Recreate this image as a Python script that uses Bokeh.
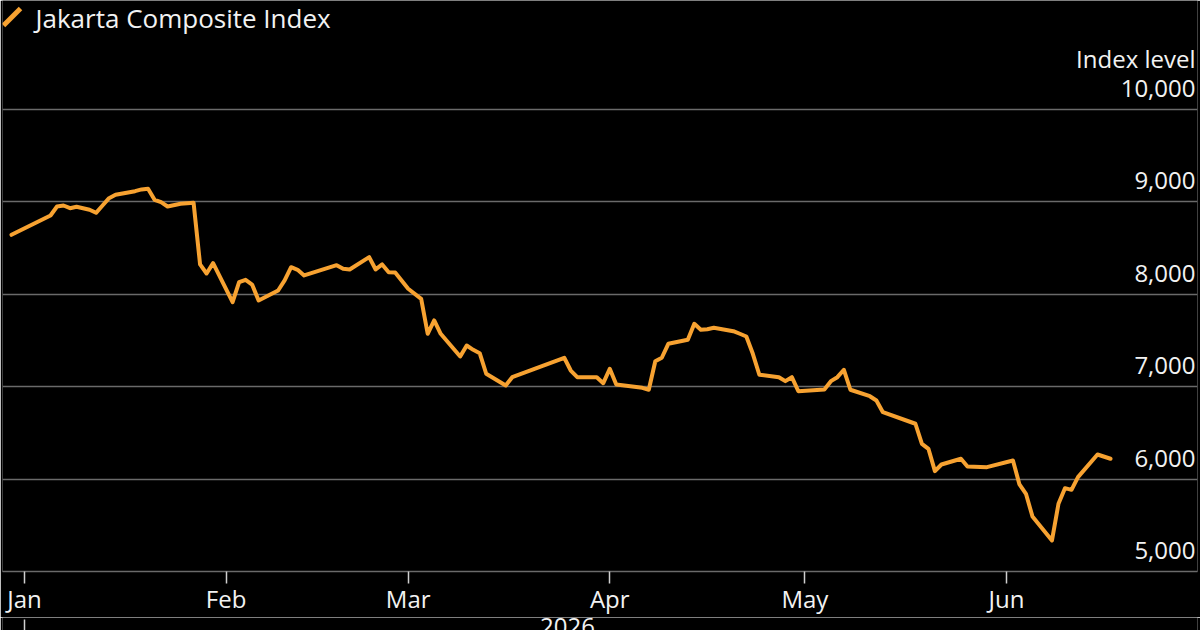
import pandas as pd
from bokeh.plotting import figure
from bokeh.layouts import column
from bokeh.models import Range1d, FixedTicker, Label, Arrow, ColumnDataSource
from bokeh.core.properties import value
from bokeh.embed import file_html
from bokeh.resources import INLINE

# ---------------- data ----------------
series_name = "Jakarta Composite Index"
y_axis_title = "Index level"

dates = [
    "2025-12-30", "2026-01-05", "2026-01-06", "2026-01-07", "2026-01-08", "2026-01-09",
    "2026-01-11", "2026-01-12", "2026-01-13", "2026-01-14", "2026-01-15", "2026-01-18",
    "2026-01-19", "2026-01-20", "2026-01-21", "2026-01-22", "2026-01-23", "2026-01-25",
    "2026-01-27", "2026-01-28", "2026-01-29", "2026-01-30", "2026-02-02", "2026-02-03",
    "2026-02-04", "2026-02-05", "2026-02-06", "2026-02-09", "2026-02-10", "2026-02-11",
    "2026-02-12", "2026-02-13", "2026-02-18", "2026-02-19", "2026-02-20", "2026-02-23",
    "2026-02-24", "2026-02-25", "2026-02-26", "2026-02-27", "2026-03-01", "2026-03-03",
    "2026-03-04", "2026-03-05", "2026-03-06", "2026-03-09", "2026-03-10", "2026-03-11",
    "2026-03-12", "2026-03-13", "2026-03-16", "2026-03-17", "2026-03-25", "2026-03-26",
    "2026-03-27", "2026-03-30", "2026-03-31", "2026-04-01", "2026-04-02", "2026-04-06",
    "2026-04-07", "2026-04-08", "2026-04-09", "2026-04-10", "2026-04-13", "2026-04-14",
    "2026-04-15", "2026-04-16", "2026-04-17", "2026-04-20", "2026-04-21", "2026-04-22",
    "2026-04-23", "2026-04-24", "2026-04-27", "2026-04-28", "2026-04-29", "2026-04-30",
    "2026-05-04", "2026-05-05", "2026-05-06", "2026-05-07", "2026-05-08", "2026-05-11",
    "2026-05-12", "2026-05-13", "2026-05-18", "2026-05-19", "2026-05-20", "2026-05-21",
    "2026-05-22", "2026-05-25", "2026-05-26", "2026-05-29", "2026-06-02", "2026-06-03",
    "2026-06-04", "2026-06-05", "2026-06-08", "2026-06-09", "2026-06-10", "2026-06-11",
    "2026-06-12", "2026-06-15", "2026-06-17",
]
values = [
    8644, 8853, 8950, 8961, 8932, 8947,
    8915, 8882, 8961, 9040, 9077, 9116,
    9135, 9142, 9023, 8997, 8950, 8980,
    8990, 8323, 8225, 8337, 7915, 8131,
    8157, 8106, 7933, 8041, 8150, 8293,
    8265, 8204, 8315, 8276, 8269, 8402,
    8269, 8323, 8239, 8236, 8060, 7951,
    7573, 7717, 7573, 7327, 7446, 7399,
    7363, 7140, 7013, 7103, 7313, 7175,
    7103, 7103, 7038, 7194, 7024, 6988,
    6967, 7276, 7313, 7464, 7508, 7681,
    7616, 7622, 7638, 7601, 7573, 7543,
    7356, 7129, 7103, 7060, 7103, 6951,
    6970, 7060, 7103, 7183, 6967, 6897,
    6851, 6724, 6599, 6382, 6328, 6086,
    6158, 6220, 6136, 6129, 6201, 5942,
    5841, 5595, 5336, 5733, 5902, 5884,
    6021, 6266, 6220,
]

y_ticks = [5000, 6000, 7000, 8000, 9000, 10000]
y_tick_labels = ["5,000", "6,000", "7,000", "8,000", "9,000", "10,000"]
month_ticks = ["2026-01-01", "2026-02-01", "2026-03-01", "2026-04-01", "2026-05-01", "2026-06-01"]
month_labels = ["Jan", "Feb", "Mar", "Apr", "May", "Jun"]
year_label = "2026"

# ---------------- style / layout ----------------
ORANGE = "#F7A231"
TEXT = "#F2F2F2"
GRID = "#6a6a6a"
TICK = "#d0d0d0"
FONT = "Open Sans"
BG = "#000000"

W = 1200
MAIN_H = 617                # main figure: plot + month axis
STRIP_H = 13                # bottom strip: year row (cut by the window, as in the source)
FRAME_LEFT = 2
FRAME_RIGHT = 1197
FRAME_BOTTOM = 571          # canvas px of the frame bottom
TOP_TICK_PX = 109           # canvas px of the top gridline
JAN_PX = 24                 # canvas px of 1 Jan
PX_PER_DAY = 6.503


def ms(s):
    return pd.Timestamp(s).value // 10**6


DAY_MS = 86400000
jan1 = ms(month_ticks[0])
x_range = Range1d(jan1 - (JAN_PX - FRAME_LEFT) / PX_PER_DAY * DAY_MS,
                  jan1 + (FRAME_RIGHT - JAN_PX) / PX_PER_DAY * DAY_MS)
x_end = x_range.end
y_start = y_ticks[0]
y_end = y_start + (y_ticks[-1] - y_start) * FRAME_BOTTOM / (FRAME_BOTTOM - TOP_TICK_PX)

p = figure(
    width=W, height=MAIN_H,
    x_axis_type="datetime", y_axis_location=None,
    x_range=x_range, y_range=Range1d(y_start, y_end),
    output_backend="svg", toolbar_location=None,
    min_border_left=FRAME_LEFT, min_border_right=W - FRAME_RIGHT,
    min_border_top=0, min_border_bottom=MAIN_H - FRAME_BOTTOM,
    background_fill_color=BG, border_fill_color=BG,
    outline_line_color=None,
)
p.outline_line_alpha = 0

# grid: horizontal lines only
for g in p.grid:
    if g.dimension == 0:
        g.visible = False
        g.grid_line_color = None
p.ygrid.ticker = FixedTicker(ticks=y_ticks)
p.ygrid.grid_line_color = GRID
p.ygrid.grid_line_width = 1.5

# x axis (months)
xa = p.xaxis[0]
xa.ticker = FixedTicker(ticks=[ms(t) for t in month_ticks])
xa.major_label_overrides = {ms(t): l for t, l in zip(month_ticks, month_labels)}
xa.axis_line_color = GRID
xa.axis_line_width = 1.5
xa.major_tick_out = 12
xa.major_tick_in = 0
xa.major_tick_line_color = TICK
xa.major_tick_line_width = 1.5
xa.minor_tick_out = 0
xa.major_label_standoff = -2
xa.major_label_text_color = TEXT
xa.major_label_text_font = FONT
xa.major_label_text_font_size = "24px"

# series line
src = ColumnDataSource(dict(date=pd.to_datetime(dates), value=values))
p.line(x="date", y="value", source=src, line_color=ORANGE, line_width=4,
       line_join="round", line_cap="round")

# y tick labels sitting above gridlines at the right edge
ylab = ColumnDataSource(dict(x=[x_end] * len(y_ticks), y=y_ticks, text=y_tick_labels))
p.text(x="x", y="y", text="text", source=ylab, text_align="right",
       text_baseline="middle", x_offset=-2, y_offset=-21,
       text_color=TEXT, text_font=value(FONT), text_font_size="24px")
p.text(x=[x_end], y=[y_ticks[-1]], text=[y_axis_title], text_align="right",
       text_baseline="middle", x_offset=-2, y_offset=-51,
       text_color=TEXT, text_font=value(FONT), text_font_size="24px")

# legend key + name (top-left); screen units are relative to the frame
p.add_layout(Arrow(x_start=3 - FRAME_LEFT, y_start=FRAME_BOTTOM - 25,
                   x_end=20 - FRAME_LEFT, y_end=FRAME_BOTTOM - 8,
                   start_units="screen", end_units="screen", end=None, start=None,
                   line_color=ORANGE, line_width=5, line_cap="butt"))
p.add_layout(Label(x=35 - FRAME_LEFT, y=FRAME_BOTTOM - 17, x_units="screen", y_units="screen",
                   text=series_name, text_color=TEXT, text_font=FONT,
                   text_font_size="26px", text_baseline="middle"))

# ---------------- bottom strip: year separator + year label ----------------
s = figure(
    width=W, height=STRIP_H,
    x_axis_location=None, y_axis_location=None,
    x_range=x_range, y_range=Range1d(0, STRIP_H),
    output_backend="svg", toolbar_location=None,
    min_border_left=FRAME_LEFT, min_border_right=W - FRAME_RIGHT,
    min_border_top=0, min_border_bottom=0,
    background_fill_color=BG, border_fill_color=BG,
    outline_line_color=None,
)
for g in s.grid:
    g.visible = False
s.segment(x0=[jan1], x1=[jan1], y0=[0], y1=[STRIP_H - 2],
          line_color=TICK, line_width=1.5)
last = ms(dates[-1])
s.text(x=[(jan1 + last) / 2], y=[STRIP_H], text=[year_label], text_align="center",
       text_baseline="middle", y_offset=9,
       text_color=TEXT, text_font=value(FONT), text_font_size="24px")

layout = column(p, s, spacing=0)
open("out.html", "w").write(file_html(layout, INLINE))
